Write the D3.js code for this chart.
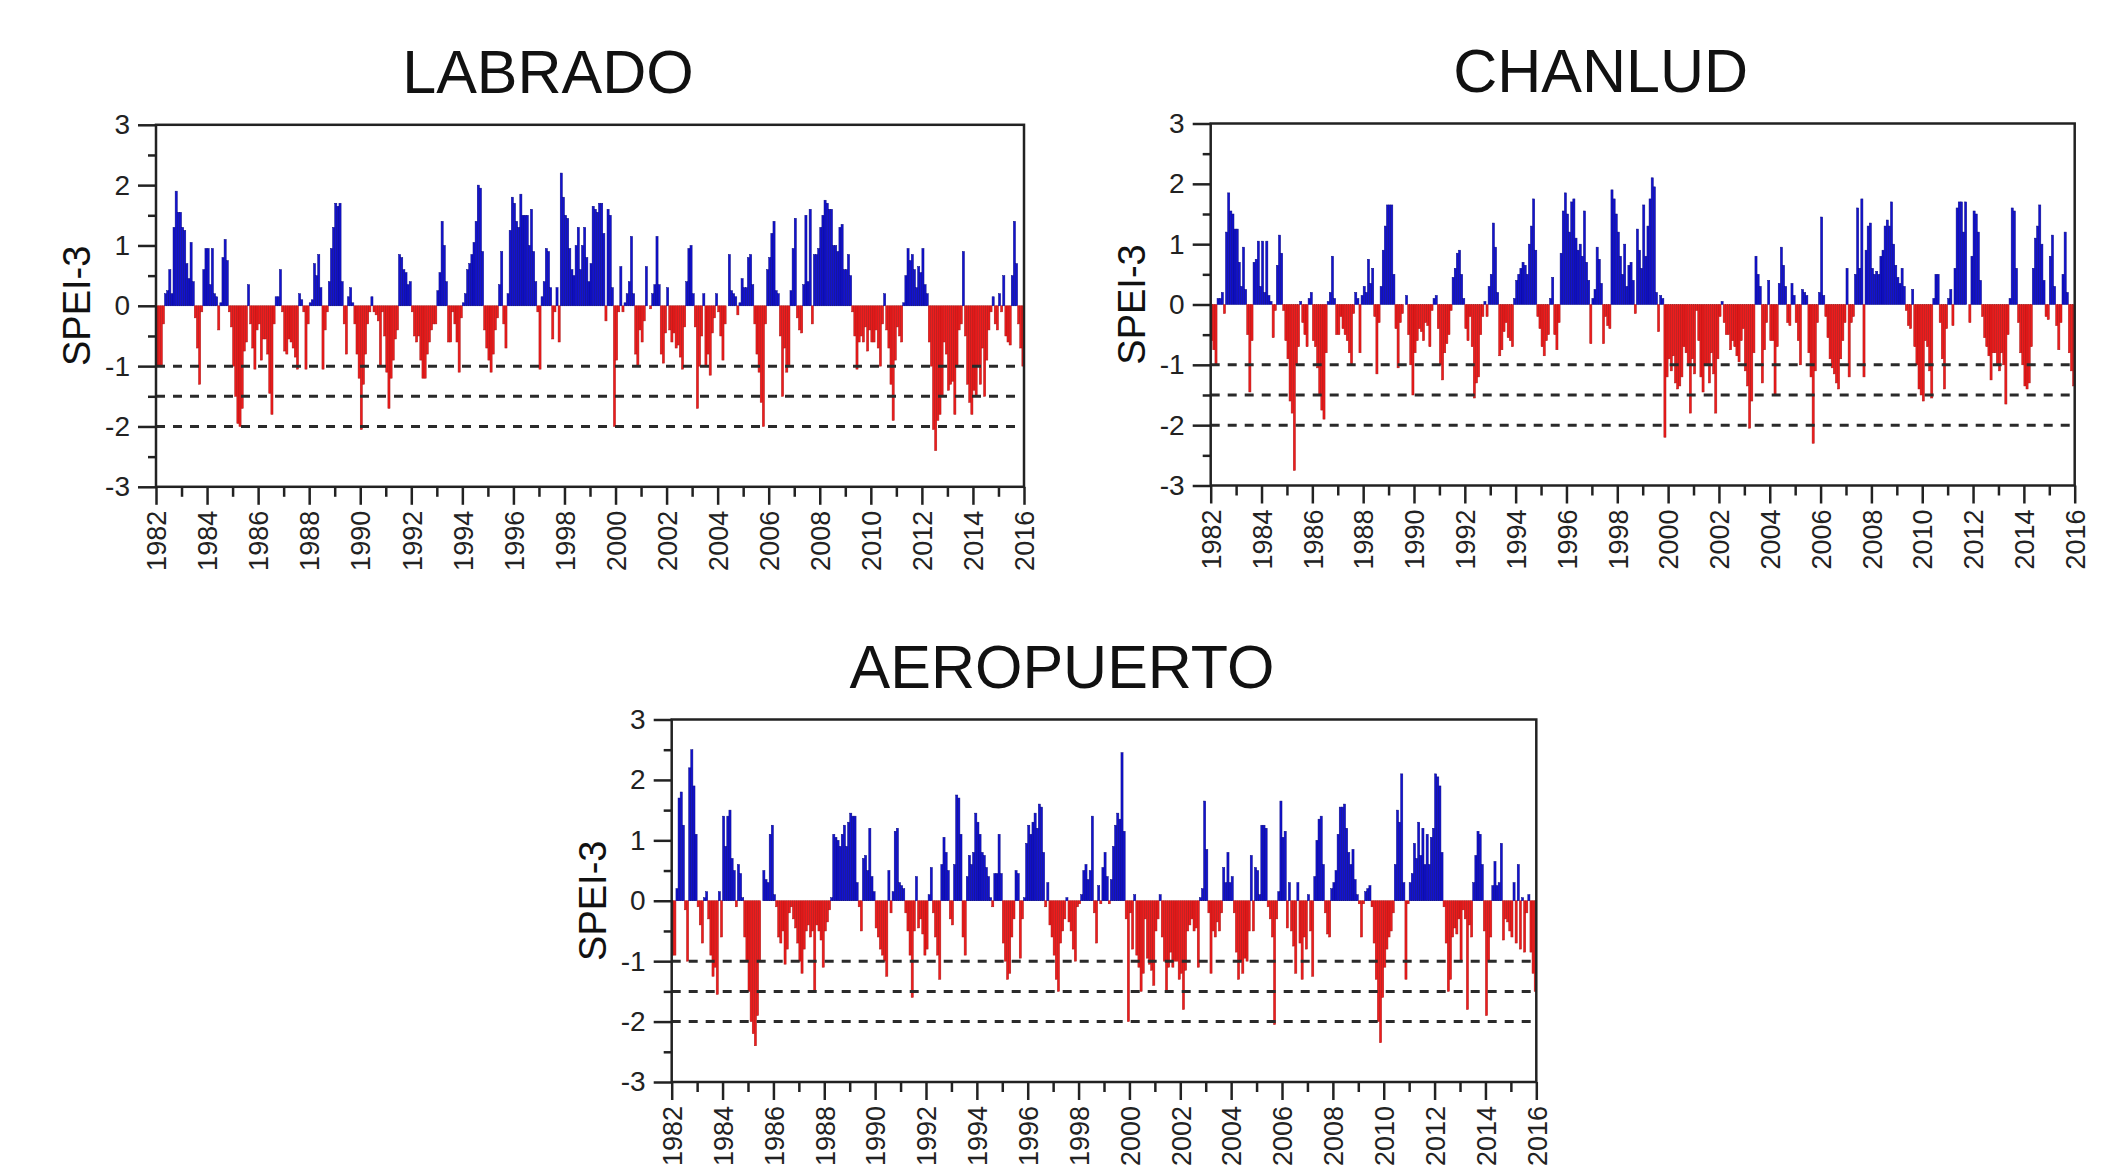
<!DOCTYPE html>
<html>
<head>
<meta charset="utf-8">
<script src="https://cdn.jsdelivr.net/npm/d3@7"></script>
<style>
body { margin: 0; background: #fff; }
svg { display: block; font-family: "Liberation Sans", Arial, sans-serif; }
</style>
</head>
<body>
<svg id="drawing_region"></svg>
<script>
// station names, axis ticks and drought thresholds
const stations = ["LABRADO", "CHANLUD", "AEROPUERTO"];
const yearLabels = [1982, 1984, 1986, 1988, 1990, 1992, 1994, 1996, 1998, 2000, 2002, 2004, 2006, 2008, 2010, 2012, 2014, 2016];
const yTicks = [-3, -2, -1, 0, 1, 2, 3];
const yMinorTicks = [-2.5, -1.5, -0.5, 0.5, 1.5, 2.5];
const thresholds = [-1, -1.5, -2];

// monthly SPEI-3, Jan 1982 - Dec 2015 (one row per year)
const labrado = [
  -1.0, -1.0, -1.0, -0.3, 0.2, 0.25, 0.6, 0.2, 1.3, 1.9, 1.55, 1.55,
  1.3, 1.25, 0.7, 0.45, 1.05, 0.4, -0.2, -0.7, -1.3, -0.1, 0.6, 0.95,
  0.95, 0.35, 0.95, 0.2, 0.15, -0.4, 0.05, 0.8, 1.1, 0.75, -0.1, -0.35,
  -1.0, -1.5, -1.95, -2.0, -1.7, -0.75, -0.6, 0.35, -0.3, -0.7, -1.05, -0.4,
  -0.3, -0.9, -0.55, -0.55, -0.8, -1.45, -1.8, -0.3, 0.15, 0.15, 0.6, -0.1,
  -0.75, -0.8, -0.55, -0.6, -0.7, -0.85, -1.05, 0.2, 0.1, -0.1, -1.05, -0.3,
  0.05, 0.1, 0.7, 0.5, 0.85, 0.3, -1.05, -0.4, -0.1, 0.4, 0.95, 1.3,
  1.7, 1.65, 1.7, 0.4, -0.3, -0.8, 0.15, 0.3, 0.05, -0.3, -0.8, -1.2,
  -2.05, -1.3, -0.8, -0.3, -0.1, 0.15, -0.1, -0.15, -0.25, -1.0, -0.1, -0.5,
  -1.1, -1.7, -1.2, -0.9, -0.55, -0.4, 0.85, 0.8, 0.6, 0.55, 0.35, 0.4,
  -0.1, -0.5, -0.6, -0.5, -0.9, -1.2, -1.2, -0.8, -0.6, -0.4, -0.3, -0.3,
  0.25, 0.55, 1.4, 1.0, 0.4, -0.6, -0.6, -0.1, -0.3, -0.6, -1.1, -0.2,
  0.05, 0.2, 0.6, 0.7, 0.85, 1.05, 1.4, 2.0, 1.95, 0.9, -0.4, -0.7,
  -0.9, -1.1, -0.8, -0.4, -0.2, 0.35, 0.9, -0.3, -0.7, 0.2, 1.25, 1.8,
  1.7, 1.4, 1.3, 1.85, 1.5, 1.5, 1.5, 1.0, 1.6, 0.9, 0.4, -0.1,
  -1.05, 0.15, 0.4, 0.95, 0.9, 0.3, -0.55, -0.1, 0.3, -0.6, 2.2, 1.8,
  1.5, 1.45, 0.95, 0.6, 0.5, 1.0, 1.3, 0.6, 1.0, 1.3, 0.8, 0.4,
  0.7, 1.65, 1.6, 1.55, 1.7, 1.7, 1.2, -0.25, 1.6, 1.5, 0.3, -2.0,
  -0.9, -0.1, 0.65, -0.1, 0.05, 0.2, 0.4, 1.15, 0.2, -0.8, -1.0, -0.4,
  -0.6, -0.25, 0.65, 0.0, -0.05, 0.2, 0.35, 1.15, 0.35, -0.8, -0.95, -0.45,
  0.3, -0.4, -0.6, -0.45, -0.7, -0.65, -0.85, -1.05, -0.35, 0.4, 0.95, 1.0,
  0.2, -0.35, -1.7, -1.0, -0.5, 0.2, -1.0, -0.8, -1.15, -0.45, -0.2, 0.2,
  -0.1, -0.5, -0.9, -0.3, 0.0, 0.85, 0.25, 0.2, 0.15, -0.15, 0.05, 0.45,
  0.3, 0.3, 0.8, 0.85, 0.35, -0.3, -0.8, -1.1, -1.6, -2.0, -0.3, 0.6,
  0.8, 1.2, 1.4, 0.25, 0.2, -0.5, -1.5, -0.7, -1.1, -1.0, 0.25, 0.95,
  1.45, -0.2, -0.4, -0.45, 0.35, 1.5, 0.4, 1.6, -0.3, 0.85, 0.85, 0.95,
  1.3, 1.5, 1.75, 1.7, 1.6, 1.6, 1.0, 1.0, 0.9, 1.3, 1.35, 0.6,
  0.6, 0.85, 0.5, -0.1, -0.5, -1.05, -0.6, -0.5, -0.6, -0.35, -0.75, -0.4,
  -0.6, -0.6, -0.4, -0.7, -1.0, -0.3, 0.2, -0.4, -0.7, -1.3, -1.9, -0.9,
  -0.35, -0.5, -0.6, 0.05, 0.5, 0.95, 0.75, 0.85, 0.6, 0.3, 0.65, 0.55,
  0.95, 0.35, 0.2, -0.6, -1.0, -2.05, -2.4, -1.9, -1.8, -1.5, -0.6, -0.8,
  -1.4, -1.3, -1.25, -1.8, -1.0, -0.4, -0.3, 0.9, -0.5, -1.3, -1.6, -1.8,
  -1.4, -1.5, -1.0, -1.3, -0.7, -1.5, -0.9, -0.4, -0.1, 0.15, -0.3, -0.4,
  0.2, -0.1, 0.5, -0.5, -0.6, -0.65, 0.5, 1.4, 0.7, -0.3, -0.7, -1.0
];

const chanlud = [
  -0.6, -0.75, -1.0, 0.1, 0.1, 0.2, -0.15, 1.2, 1.85, 1.55, 1.5, 1.25,
  1.25, 0.7, 0.3, 0.95, 0.25, -0.5, -1.45, -0.6, 0.7, 0.75, 1.05, 0.3,
  1.05, 0.2, 1.05, 0.15, 0.05, -0.55, -0.1, 0.65, 1.15, 0.85, -0.1, -0.6,
  -0.9, -1.6, -1.8, -2.75, -1.0, -0.7, 0.05, -0.3, -0.5, -0.7, 0.1, 0.2,
  -0.6, -0.7, -1.05, -1.5, -1.75, -1.9, -0.8, 0.05, 0.2, 0.8, 0.1, -0.5,
  -0.5, -0.2, -0.4, -0.5, -0.6, -0.8, -1.0, -0.15, 0.2, 0.1, -0.8, 0.15,
  0.3, 0.2, 0.75, 0.35, 0.6, -0.2, -1.15, -0.3, 0.3, 0.9, 1.3, 1.65,
  1.65, 1.65, 0.5, -0.4, -1.05, -0.3, -0.15, 0.0, 0.15, -0.5, -1.0, -1.5,
  -0.8, -0.6, -0.4, -0.45, -0.6, -0.3, -0.35, -0.7, -0.1, 0.1, 0.15, -0.4,
  -1.0, -1.25, -0.8, -0.65, -0.5, -0.1, 0.45, 0.6, 0.85, 0.9, 0.5, 0.1,
  -0.4, -0.6, -0.2, -0.7, -1.55, -1.3, -1.2, -0.5, -0.2, 0.05, -0.2, 0.3,
  0.5, 1.35, 0.95, 0.2, -0.85, -0.75, -0.45, -0.3, -0.55, -0.6, -0.7, 0.1,
  0.4, 0.5, 0.6, 0.7, 0.65, 0.5, 1.0, 1.3, 1.75, 0.9, -0.2, -0.4,
  -0.7, -0.85, -0.6, -0.5, 0.1, 0.45, -0.5, -0.75, -0.3, 0.85, 1.55, 1.85,
  1.5, 1.2, 1.7, 1.75, 1.1, 0.9, 1.0, 0.8, 1.55, 0.7, 0.4, -0.65,
  0.1, 0.25, 0.95, 0.75, 0.35, -0.65, -0.2, -0.35, -0.4, 1.9, 1.75, 1.5,
  1.2, 0.8, 0.5, 1.0, 0.3, 0.65, 0.7, 0.4, -0.15, 1.25, 0.9, 0.6,
  1.65, 0.8, 1.3, 1.75, 2.1, 1.95, 0.2, -0.45, 0.15, 0.1, -2.2, -1.2,
  -0.9, -1.1, -0.85, -1.3, -1.4, -1.35, -1.2, -0.7, -0.8, -1.0, -1.8, -0.9,
  -1.15, -0.1, -0.6, -1.2, -1.45, -1.0, -1.0, -1.3, -0.8, -1.15, -1.8, -0.9,
  -0.2, 0.05, -0.3, -0.5, -0.5, -0.75, -0.6, -0.7, -0.85, -0.95, -0.6, -0.4,
  -1.1, -1.35, -2.05, -1.6, -0.8, 0.8, 0.5, 0.3, -1.3, -0.75, -0.3, 0.4,
  -0.6, -0.6, -1.5, -0.7, 0.35, 0.95, 0.65, 0.3, -0.3, -0.35, 0.35, 0.15,
  -0.3, -0.6, -1.0, 0.25, 0.2, 0.15, -0.8, -1.2, -2.3, -1.1, -0.3, 0.2,
  1.45, 0.15, -0.2, -0.55, -0.9, -1.05, -1.15, -1.3, -1.4, -0.9, -0.6, -0.3,
  0.6, -1.2, -0.3, -0.2, 0.5, 1.6, 0.6, 1.75, -1.2, 0.9, 1.3, 1.35,
  0.6, 0.5, 0.55, 0.5, 0.8, 0.9, 1.3, 1.4, 1.3, 1.7, 1.0, 0.65,
  0.45, 0.35, 0.6, 0.3, -0.1, -0.35, -0.4, 0.25, -0.7, -1.0, -1.4, -1.5,
  -1.6, -0.6, -0.7, -1.1, -1.55, 0.1, 0.5, 0.5, -0.3, -0.9, -1.4, -0.4,
  0.1, 0.25, -0.35, 0.6, 1.6, 1.7, 1.7, 1.2, 1.7, 0.0, -0.3, 0.8,
  1.55, 1.5, 1.2, 0.4, -0.2, -0.55, -0.7, -0.85, -1.25, -0.8, -0.8, -1.0,
  -1.1, -0.8, -1.0, -1.65, -0.5, 0.1, 1.6, 1.55, 0.6, -0.3, -0.8, -1.0,
  -1.35, -1.4, -1.3, -0.7, 0.6, 1.1, 1.3, 1.65, 1.0, 0.4, -0.2, -0.25,
  0.8, 1.15, 0.3, -0.35, -0.75, -0.3, 0.5, 1.2, 0.2, -0.8, -1.1, -1.35
];

const aeropuerto = [
  -0.9, -0.9, 0.2, 1.7, 1.8, 1.25, -0.15, -1.0, 2.2, 2.5, 1.9, 1.1,
  -0.1, -0.4, -0.7, 0.05, 0.15, -0.3, -0.9, -1.25, -1.1, -1.55, 0.15, -0.6,
  1.4, 0.9, 1.4, 1.5, 0.7, 0.5, -0.1, 0.6, 0.45, 0.05, -0.6, -1.0,
  -1.5, -2.0, -2.2, -2.4, -1.9, -1.0, 0.0, 0.5, 0.35, 0.3, 1.1, 1.25,
  0.1, -0.1, -0.6, -0.7, -0.5, -1.05, -0.8, -0.2, -0.1, -0.3, -0.45, -0.7,
  -1.0, -1.2, -0.8, -0.5, -0.4, -0.6, -0.5, -1.5, -0.4, -0.5, -0.65, -1.1,
  -0.5, -0.35, -0.15, 0.05, 1.1, 1.05, 1.0, 0.9, 1.1, 1.25, 0.9, 1.3,
  1.45, 1.4, 1.4, 0.3, -0.1, -0.5, 0.7, 0.75, 0.5, 1.2, 0.4, 0.15,
  -0.45, -0.6, -0.8, -0.9, -1.0, -1.25, 0.5, -0.2, 0.15, 1.15, 1.2, 0.3,
  0.25, 0.2, -0.2, -0.5, -0.9, -1.6, -0.5, 0.4, -0.45, -0.3, -0.55, -0.9,
  -0.8, 0.1, 0.55, -0.2, -0.6, -0.9, -1.3, 0.6, 1.05, 0.8, 0.5, -0.3,
  -0.4, 0.6, 1.75, 1.7, 1.1, -0.6, -0.9, 0.4, 0.75, 0.6, 0.8, 1.45,
  1.3, 1.1, 0.8, 0.75, 0.55, 0.4, 0.05, -0.1, 0.45, 0.45, 1.1, 0.45,
  -0.7, -1.0, -1.3, -1.2, -0.6, -0.3, 0.5, 0.45, -0.95, -0.3, 0.05, 0.95,
  1.25, 1.1, 1.3, 1.45, 1.2, 1.6, 1.55, 0.8, -0.1, 0.3, -0.4, -0.6,
  -0.9, -1.3, -1.5, -0.7, -0.5, -0.3, 0.05, -0.35, -0.5, -0.8, -1.0, -0.1,
  -0.05, 0.1, 0.5, 0.6, 0.35, 0.5, 1.4, -0.2, -0.7, 0.25, -0.05, 0.55,
  0.8, 0.4, -0.05, 0.35, 0.9, 1.25, 1.45, 1.35, 2.45, 1.15, -0.3, -2.0,
  -0.2, -0.8, 0.1, -0.9, -1.1, -1.5, -1.2, -0.3, -0.95, -1.05, -1.15, -1.4,
  -0.5, -0.3, 0.1, -0.6, -1.0, -1.5, -1.1, -0.85, -1.1, -1.0, -1.0, -1.3,
  -1.2, -1.8, -1.15, -0.5, -0.4, -0.3, -0.5, -0.45, -1.1, 0.05, 0.2, 1.65,
  0.85, -0.2, -1.2, -0.5, -0.6, -0.35, -0.5, -0.2, 0.55, 0.3, 0.8, 0.3,
  0.4, -0.2, -0.85, -1.3, -1.0, -1.2, -0.95, -1.0, -0.5, 0.75, -0.5, 0.55,
  0.5, 0.1, 1.25, 1.25, 1.2, -0.1, -0.3, -0.6, -2.05, -0.3, 0.15, 1.65,
  1.05, 1.15, -0.45, 0.3, -0.5, -0.75, -1.2, 0.3, -0.7, -1.3, -0.6, -0.8,
  0.1, -0.5, -1.25, 0.4, 1.0, 1.35, 1.4, 0.6, -0.2, -0.55, -0.6, 0.2,
  0.3, 0.5, 1.1, 1.55, 1.55, 1.6, 1.2, 0.8, 0.6, 0.85, 0.35, 0.1,
  -0.05, -0.6, -0.05, 0.15, 0.2, 0.25, -0.1, -0.7, -1.3, -2.0, -2.35, -1.6,
  -1.1, -0.8, -0.6, -0.5, -0.2, 0.6, 1.5, 1.3, 2.1, 0.3, -1.3, -0.05,
  0.3, 0.45, 0.95, 0.7, 1.3, 0.75, 1.2, 0.6, 1.1, 0.6, 1.05, 1.2,
  2.1, 2.05, 1.9, 0.8, -0.1, -0.7, -1.5, -1.3, -0.6, -0.45, -0.55, -0.3,
  -1.0, -0.15, -0.3, -1.8, -0.4, -0.6, 0.3, 0.75, 1.15, 1.1, 0.6, -0.5,
  -1.9, -1.0, -0.6, 0.25, 0.65, 0.25, 0.3, 0.95, -0.65, -0.3, -0.35, -0.5,
  -0.6, 0.3, -0.7, 0.6, -0.8, 0.05, -0.85, -0.2, 0.1, -0.85, -1.2, -1.5
];

const panels = [
  { parent: '#drawing_region', title: stations[0], left: 156, top: 124.8, width: 868, height: 362 },
  { parent: '#drawing_region', title: stations[1], left: 1210.7, top: 123.5, width: 864, height: 362 },
  { parent: '#drawing_region', title: stations[2], left: 671.7, top: 719.5, width: 864.6, height: 362.5 }
];
const series = [labrado, chanlud, aeropuerto];

class SpeiChart {

    constructor( config, data ) {
        this.config = config;
        this.data = data;
        this.init();
    }

    init() {
        let self = this;
        self.svg = d3.select( self.config.parent );
        self.chart = self.svg.append('g')
            .attr('transform', `translate(${self.config.left}, ${self.config.top})`);
    }

    update() {
        let self = this;

        self.xscale = d3.scaleLinear()
            .domain([1982, 2016])
            .range([0, self.config.width]);

        self.yscale = d3.scaleLinear()
            .domain([-3, 3])
            .range([self.config.height, 0]);

        self.render();
    }

    render() {
        let self = this;
        const w = self.config.width, h = self.config.height;
        const step = self.xscale(1982 + 1/12) - self.xscale(1982);

        // bars
        self.chart.append('g')
            .selectAll('rect')
            .data( self.data )
            .join('rect')
            .attr('x', (d, i) => self.xscale(1982 + i/12))
            .attr('width', step)
            .attr('y', d => self.yscale(Math.max(0, d)))
            .attr('height', d => Math.abs(self.yscale(d) - self.yscale(0)))
            .attr('fill', d => d >= 0 ? '#1212d0' : '#ee1c1c')
            .attr('stroke', d => d >= 0 ? '#0a0a80' : '#a81414')
            .attr('stroke-width', 0.5);

        // threshold lines
        self.chart.selectAll('.thr')
            .data( thresholds )
            .join('line')
            .attr('class', 'thr')
            .attr('x1', 0)
            .attr('x2', w)
            .attr('y1', d => self.yscale(d))
            .attr('y2', d => self.yscale(d))
            .attr('stroke', '#2a2a2a')
            .attr('stroke-width', 3)
            .attr('stroke-dasharray', '9,8');

        // y axis (hyphen minus like the original)
        const yaxis = self.chart.append('g')
            .call( d3.axisLeft(self.yscale).tickValues(yTicks).tickSize(18).tickPadding(8).tickFormat(d => String(d)) );
        yaxis.select('.domain').remove();
        yaxis.selectAll('text').style('font-size', '28px').attr('fill', '#222');
        yaxis.selectAll('line').attr('stroke', '#222').attr('stroke-width', 2.5);

        const yminor = self.chart.append('g')
            .call( d3.axisLeft(self.yscale).tickValues(yMinorTicks).tickSize(8).tickFormat('') );
        yminor.select('.domain').remove();
        yminor.selectAll('line').attr('stroke', '#222').attr('stroke-width', 2.5);

        // x axis
        const xaxis = self.chart.append('g')
            .attr('transform', `translate(0, ${h})`)
            .call( d3.axisBottom(self.xscale).tickValues(yearLabels).tickSize(18).tickFormat(d => String(d)) );
        xaxis.select('.domain').remove();
        xaxis.selectAll('line').attr('stroke', '#222').attr('stroke-width', 2.5);
        xaxis.selectAll('text')
            .attr('transform', 'rotate(-90)')
            .attr('x', -24)
            .attr('y', 0)
            .attr('dy', '0.36em')
            .style('text-anchor', 'end')
            .style('font-size', '27px')
            .attr('fill', '#222');

        const oddYears = yearLabels.slice(0, -1).map(d => d + 1);
        const xminor = self.chart.append('g')
            .attr('transform', `translate(0, ${h})`)
            .call( d3.axisBottom(self.xscale).tickValues(oddYears).tickSize(10).tickFormat('') );
        xminor.select('.domain').remove();
        xminor.selectAll('line').attr('stroke', '#222').attr('stroke-width', 2.5);

        // frame
        self.chart.append('rect')
            .attr('width', w)
            .attr('height', h)
            .attr('fill', 'none')
            .attr('stroke', '#222')
            .attr('stroke-width', 2.5);

        // y label
        self.chart.append('text')
            .attr('transform', `translate(-79, ${h/2}) rotate(-90)`)
            .attr('text-anchor', 'middle')
            .attr('dy', '0.35em')
            .style('font-size', '38px')
            .attr('fill', '#111')
            .text('SPEI-3');

        // title
        self.chart.append('text')
            .attr('x', w/2 - 42)
            .attr('y', -32)
            .attr('text-anchor', 'middle')
            .style('font-size', '61px')
            .attr('fill', '#111')
            .text( self.config.title );
    }
}

d3.select('#drawing_region')
    .attr('width', 2124)
    .attr('height', 1167);

panels.forEach( (cfg, i) => {
    const chart = new SpeiChart( cfg, series[i] );
    chart.update();
});
</script>
</body>
</html>
